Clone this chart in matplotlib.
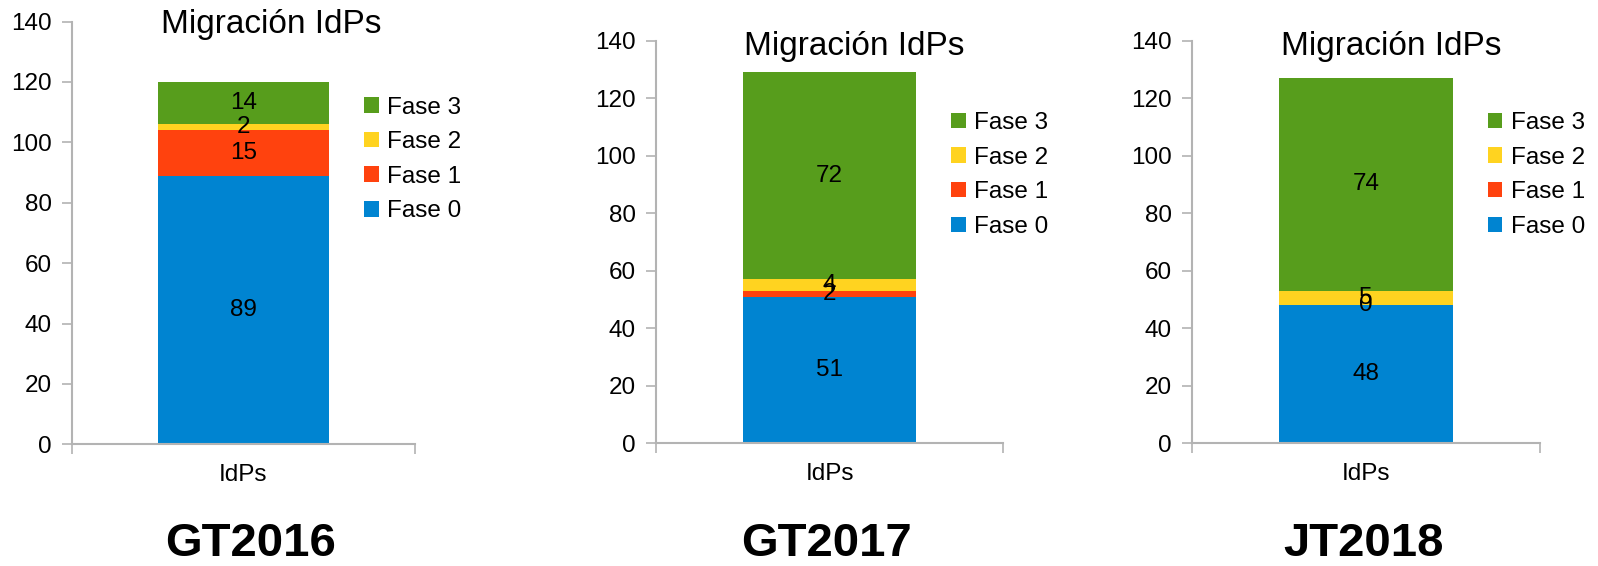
import numpy as np
import matplotlib
matplotlib.use("Agg")
from matplotlib import pyplot as plt
from matplotlib.patches import Patch

plt.rcParams['font.family'] = ['Liberation Sans', 'DejaVu Sans']

# data
phases = ['Fase 0', 'Fase 1', 'Fase 2', 'Fase 3']
colors = ['#0084d1', '#ff420e', '#ffd320', '#579d1c']
events = ['GT2016', 'GT2017', 'JT2018']
category = 'IdPs'
title = 'Migración IdPs'
gt2016 = [89, 15, 2, 14]
gt2017 = [51, 2, 4, 72]
jt2018 = [48, 0, 5, 74]
values = [gt2016, gt2017, jt2018]

W, H = 1598, 566
fig = plt.figure(figsize=(W / 100, H / 100), dpi=100)

# panel geometry in pixels: axis left, axis right, y of 140, y of 0
panels = [(72, 415, 21.5, 444.4), (655.7, 1003.3, 40.5, 443.3), (1191.7, 1540, 40.5, 443.3)]
title_pos = [(271.5, 33.5), (854, 54.5), (1391, 54.5)]
legend_pos = [(364, 96.5), (951, 112), (1487.5, 112)]
event_x = [251, 826.7, 1364]

grey = '#b3b3b3'
for k, (x0, x1, ytop, ybot) in enumerate(panels):
    ax = fig.add_axes([x0 / W, 1 - ybot / H, (x1 - x0) / W, (ybot - ytop) / H])
    bottom = 0
    for name, v, c in zip(phases, values[k], colors):
        bars = ax.bar([0], [v], width=1.0, bottom=bottom, color=c, label=name)
        ax.bar_label(bars, labels=[str(v)], label_type='center', fontsize=17.5, color='black')
        bottom += v
    ax.set_xlim(-1, 1)
    ax.set_ylim(0, 140)
    ax.set_yticks(np.arange(0, 141, 20))
    ax.set_xticks([0])
    ax.set_xticklabels([category])
    ax.set_xticks([-1, 1], minor=True)
    ax.tick_params(axis='x', which='major', length=0, labelsize=17.5, pad=14)
    ax.tick_params(axis='x', which='minor', length=7.5, width=1.2, color=grey)
    ax.tick_params(axis='y', length=7.5, width=1.2, color=grey, labelsize=17.5, pad=7)
    for s in ['top', 'right']:
        ax.spines[s].set_visible(False)
    for s in ['left', 'bottom']:
        ax.spines[s].set_color(grey)
        ax.spines[s].set_linewidth(1.5)
    ax.patch.set_alpha(0)

    handles = [Patch(facecolor=c, edgecolor='none') for c in colors][::-1]
    lx, ly = legend_pos[k]
    fig.legend(handles, phases[::-1], loc='upper left', bbox_to_anchor=(lx / W, 1 - ly / H),
               frameon=False, fontsize=17.5, handlelength=0.6, handleheight=0.6,
               handletextpad=0.35, labelspacing=0.52, borderpad=0, borderaxespad=0)

    tx, ty = title_pos[k]
    fig.text(tx / W, 1 - ty / H, title, ha='center', va='baseline', fontsize=24)
    fig.text(event_x[k] / W, 1 - 556 / H, events[k], ha='center', va='baseline',
             fontsize=34, fontweight='bold')

fig.savefig('out.png', dpi=100)
